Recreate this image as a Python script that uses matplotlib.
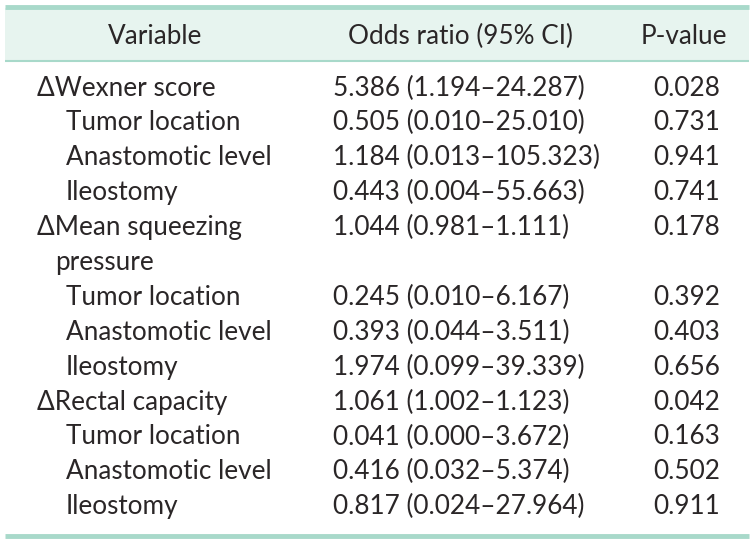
import matplotlib
matplotlib.use("Agg")
import matplotlib.pyplot as plt
from matplotlib.patches import Rectangle

# table content
header = ["Variable", "Odds ratio (95% CI)", "P-value"]
variables = ["\u0394Wexner score", "Tumor location", "Anastomotic level", "Ileostomy",
             "\u0394Mean squeezing\npressure", "Tumor location", "Anastomotic level", "Ileostomy",
             "\u0394Rectal capacity", "Tumor location", "Anastomotic level", "Ileostomy"]
is_main = [True, False, False, False, True, False, False, False, True, False, False, False]
odds = ["5.386 (1.194\u201324.287)", "0.505 (0.010\u201325.010)", "1.184 (0.013\u2013105.323)",
        "0.443 (0.004\u201355.663)", "1.044 (0.981\u20131.111)", "0.245 (0.010\u20136.167)",
        "0.393 (0.044\u20133.511)", "1.974 (0.099\u201339.339)", "1.061 (1.002\u20131.123)",
        "0.041 (0.000\u20133.672)", "0.416 (0.032\u20135.374)", "0.817 (0.024\u201327.964)"]
pvals = ["0.028", "0.731", "0.941", "0.741", "0.178", "0.392", "0.403", "0.656",
         "0.042", "0.163", "0.502", "0.911"]

border = "#a8d9ca"
head_bg = "#e7f4ef"
txt = "#2a2627"
fs = 18.8

plt.rcParams['font.family'] = ['Lato', 'DejaVu Sans']

fig = plt.figure(figsize=(7.54, 5.43), dpi=100)
ax = fig.add_axes([0, 0, 1, 1])
ax.set_xlim(0, 754)
ax.set_ylim(543, 0)
ax.axis("off")

# header band and rules
ax.add_patch(Rectangle((5, 8), 744, 52, facecolor=head_bg, edgecolor="none"))
ax.plot([5, 749], [6.5, 6.5], color=border, lw=3.5, solid_capstyle="butt")
ax.plot([5, 749], [60.5, 60.5], color=border, lw=1.5, solid_capstyle="butt")
ax.plot([5, 749], [535.5, 535.5], color=border, lw=3.5, solid_capstyle="butt")

ax.text(155, 36, header[0], ha="center", va="center", fontsize=fs, color=txt)
ax.text(460, 36, header[1], ha="center", va="center", fontsize=fs, color=txt)
ax.text(684, 36, header[2], ha="center", va="center", fontsize=fs, color=txt)

row_h = 34.9
y = 88
for name, main, o, p in zip(variables, is_main, odds, pvals):
    if "\n" in name:
        first, second = name.split("\n")
        ax.text(37, y, first, ha="left", va="center", fontsize=fs, color=txt)
        ax.text(55, y + row_h, second, ha="left", va="center", fontsize=fs, color=txt)
    else:
        ax.text(37 if main else 66, y, name, ha="left", va="center", fontsize=fs, color=txt)
    ax.text(333, y, o, ha="left", va="center", fontsize=fs, color=txt)
    ax.text(720, y, p, ha="right", va="center", fontsize=fs, color=txt)
    y += row_h * (2 if "\n" in name else 1)

fig.savefig("out.png", dpi=100)
